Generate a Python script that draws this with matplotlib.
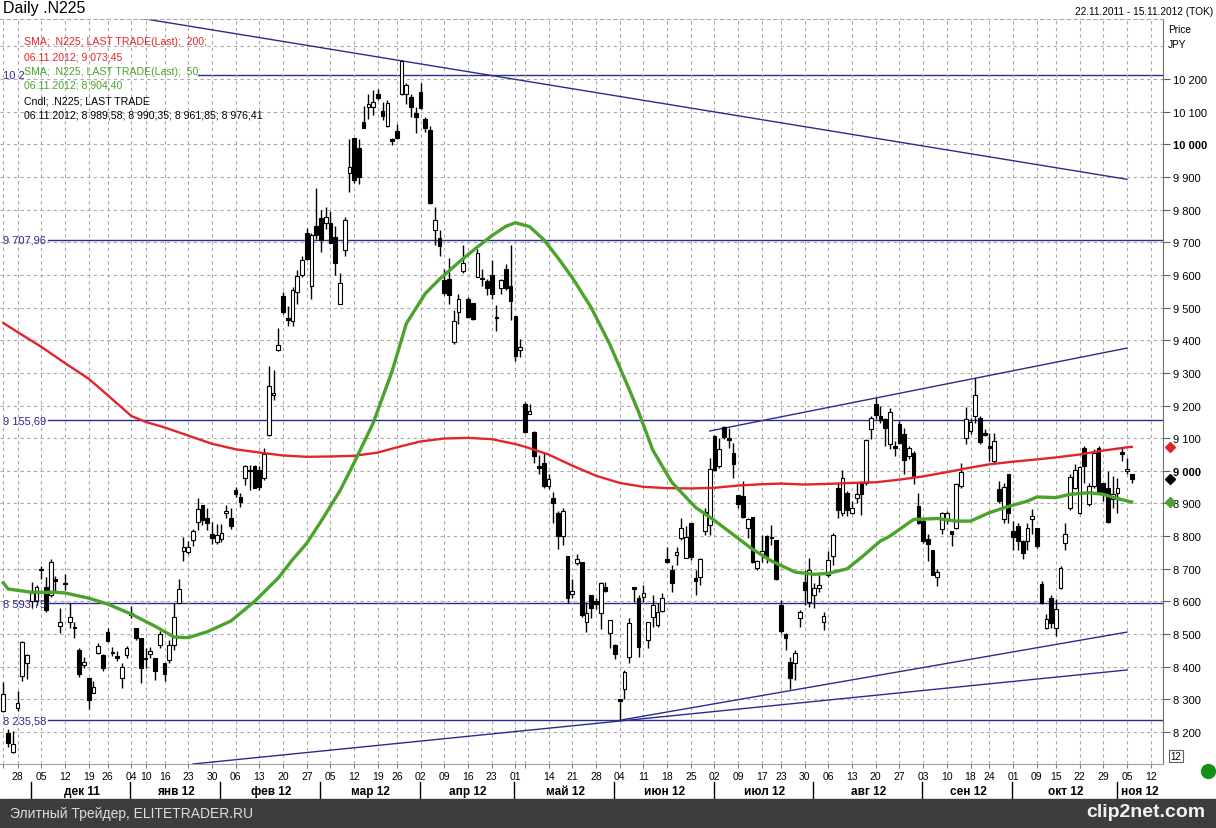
import numpy as np
import pandas as pd
import matplotlib
matplotlib.use("Agg")
import matplotlib.pyplot as plt
import matplotlib.transforms as mtransforms
from matplotlib.patches import Rectangle
from matplotlib.lines import Line2D

plt.rcParams['font.family'] = ['Liberation Sans', 'DejaVu Sans']

W, H = 1216, 829

# trading days (TSE holidays removed)
jp_holidays = ['2011-11-23', '2011-12-23', '2012-01-02', '2012-01-03', '2012-01-09',
               '2012-03-20', '2012-04-30', '2012-05-03', '2012-05-04', '2012-07-16',
               '2012-09-17', '2012-10-08']
dates = pd.bdate_range('2011-11-22', '2012-11-15', freq='C', holidays=jp_holidays)

opens = [8264, 8196, 8140, 8274, 8371, 8411, 8600, 8600, 8698, 8645,
         8619, 8668, 8525, 8655, 8538, 8520, 8452, 8404, 8365, 8318,
         8442, 8436, 8506, 8446, 8432, 8365, 8436, 8566, 8518, 8489,
         8428, 8438, 8426, 8467, 8411, 8421, 8467, 8594, 8755, 8752,
         8787, 8843, 8895, 8854, 8807, 8781, 8792, 8870, 8856, 8941,
         8921, 8978, 8999, 9014, 9004, 8978, 9111, 9232, 9371, 9537,
         9467, 9460, 9547, 9601, 9730, 9566, 9750, 9774, 9760, 9760,
         9716, 9511, 9676, 9912, 10018, 9990, 10067, 10113, 10113, 10153,
         10102, 10056, 10015, 10041, 10153, 10153, 10144, 10095, 10159, 10079,
         10044, 9739, 9713, 9584, 9589, 9396, 9486, 9612, 9526, 9514,
         9595, 9592, 9580, 9601, 9472, 9561, 9618, 9566, 9474, 9369,
         9204, 9175, 9118, 9015, 9023, 8955, 8916, 8870, 8801, 8738,
         8622, 8718, 8720, 8538, 8620, 8600, 8563, 8643, 8502, 8466,
         8300, 8333, 8430, 8645, 8612, 8615, 8481, 8553, 8528, 8571,
         8731, 8697, 8743, 8794, 8733, 8840, 8673, 8676, 8815, 8835,
         9107, 9014, 9134, 9101, 9055, 8927, 8922, 8825, 8860, 8701,
         8745, 8799, 8796, 8789, 8589, 8499, 8413, 8410, 8548, 8659,
         8599, 8620, 8640, 8538, 8681, 8738, 8947, 8871, 8932, 8871,
         8917, 8963, 8963, 9127, 9204, 9168, 9158, 9081, 9076, 9142,
         9112, 9045, 9056, 8892, 8846, 8790, 8759, 8676, 8821, 8851,
         8815, 8826, 8953, 9102, 9122, 9168, 9163, 9117, 9076, 9030,
         8943, 8851, 8989, 8815, 8831, 8785, 8785, 8851, 8826, 8654,
         8519, 8611, 8519, 8642, 8780, 8887, 8948, 8872, 9071, 8897,
         8953, 9071, 8964, 8948, 8913, 8933, 9058, 9001, 8989.58]

highs = [8352, 8208, 8203, 8325, 8479, 8438, 8660, 8650, 8710, 8675,
         8731, 8678, 8579, 8685, 8594, 8538, 8457, 8431, 8365, 8355,
         8472, 8438, 8518, 8459, 8447, 8411, 8462, 8585, 8520, 8489,
         8457, 8459, 8426, 8508, 8411, 8482, 8594, 8670, 8797, 8786,
         8823, 8916, 8895, 8885, 8843, 8838, 8838, 8895, 8885, 8952,
         8931, 9019, 9019, 9019, 9014, 9071, 9320, 9309, 9439, 9547,
         9506, 9563, 9615, 9658, 9745, 9728, 9866, 9800, 9808, 9797,
         9751, 9607, 9779, 10015, 10018, 10015, 10119, 10153, 10165, 10170,
         10130, 10136, 10021, 10061, 10257, 10188, 10153, 10113, 10188, 10084,
         10056, 9808, 9739, 9618, 9653, 9492, 9543, 9693, 9532, 9514,
         9681, 9618, 9589, 9647, 9509, 9589, 9635, 9693, 9474, 9405,
         9210, 9204, 9123, 9048, 9054, 8991, 8935, 8876, 8887, 8738,
         8669, 8745, 8720, 8599, 8620, 8611, 8661, 8661, 8543, 8471,
         8302, 8389, 8548, 8645, 8620, 8651, 8538, 8620, 8594, 8625,
         8768, 8712, 8768, 8855, 8830, 8840, 8697, 8733, 8886, 9040,
         9110, 9101, 9137, 9132, 9086, 8927, 8968, 8855, 8860, 8727,
         8804, 8804, 8835, 8789, 8604, 8502, 8430, 8451, 8574, 8697,
         8733, 8656, 8681, 8567, 8753, 8809, 8963, 9004, 8937, 8907,
         8963, 8968, 9099, 9168, 9224, 9199, 9163, 9193, 9091, 9153,
         9132, 9076, 9061, 8933, 8851, 8805, 8759, 8698, 8875, 8877,
         8815, 8964, 9025, 9194, 9163, 9285, 9168, 9127, 9117, 9117,
         8969, 8964, 8989, 8846, 8841, 8787, 8841, 8882, 8826, 8662,
         8560, 8621, 8606, 8708, 8841, 8989, 9020, 9015, 9076, 8964,
         9066, 9076, 8964, 8999, 8984, 8979, 9071, 9040, 8990.35]

lows = [8262, 8155, 8135, 8264, 8355, 8363, 8581, 8590, 8668, 8568,
        8614, 8632, 8503, 8634, 8518, 8487, 8370, 8396, 8269, 8318,
        8440, 8388, 8477, 8432, 8416, 8335, 8426, 8548, 8482, 8350,
        8396, 8426, 8360, 8457, 8355, 8411, 8452, 8594, 8724, 8745,
        8771, 8818, 8833, 8818, 8776, 8776, 8781, 8854, 8823, 8921,
        8890, 8957, 8942, 8947, 8942, 8973, 9107, 9216, 9366, 9480,
        9444, 9444, 9511, 9595, 9645, 9526, 9710, 9670, 9742, 9699,
        9601, 9511, 9658, 9854, 9883, 9880, 10050, 10079, 10090, 10136,
        10075, 10052, 9998, 10015, 10151, 10125, 10084, 10036, 10107, 10038,
        9818, 9693, 9658, 9538, 9511, 9388, 9451, 9607, 9469, 9461,
        9595, 9566, 9538, 9526, 9428, 9543, 9555, 9463, 9336, 9348,
        9117, 9175, 9025, 8991, 8947, 8945, 8841, 8761, 8772, 8594,
        8611, 8712, 8553, 8507, 8548, 8578, 8517, 8630, 8456, 8425,
        8236, 8302, 8410, 8599, 8430, 8599, 8456, 8522, 8522, 8568,
        8717, 8630, 8712, 8789, 8733, 8727, 8620, 8651, 8804, 8804,
        9000, 9009, 9096, 9071, 8978, 8886, 8856, 8794, 8717, 8696,
        8722, 8717, 8773, 8666, 8502, 8451, 8333, 8359, 8522, 8589,
        8584, 8579, 8630, 8512, 8676, 8712, 8855, 8861, 8861, 8868,
        8901, 8866, 8958, 9096, 9158, 9148, 9076, 9066, 9045, 9081,
        8989, 9035, 8959, 8838, 8780, 8724, 8680, 8647, 8805, 8836,
        8770, 8821, 8948, 9081, 9112, 9148, 9081, 9107, 9030, 9025,
        8902, 8841, 8841, 8759, 8759, 8729, 8759, 8805, 8764, 8591,
        8514, 8519, 8494, 8637, 8759, 8879, 8943, 8867, 8964, 8892,
        8948, 8928, 8907, 8841, 8887, 8872, 9030, 8989, 8961.85]

closes = [8315, 8165, 8163, 8289, 8477, 8435, 8625, 8644, 8696, 8574,
          8722, 8664, 8538, 8653, 8553, 8518, 8377, 8414, 8298, 8337,
          8462, 8396, 8479, 8442, 8426, 8400, 8456, 8558, 8488, 8395,
          8423, 8448, 8386, 8500, 8379, 8466, 8551, 8639, 8766, 8766,
          8815, 8884, 8849, 8841, 8793, 8803, 8810, 8877, 8832, 8929,
          8905, 9016, 9002, 8947, 8952, 9052, 9260, 9238, 9384, 9485,
          9463, 9554, 9596, 9647, 9650, 9722, 9723, 9707, 9777, 9699,
          9638, 9576, 9769, 9930, 9890, 9899, 10051, 10123, 10130, 10142,
          10086, 10127, 10011, 10018, 10255, 10183, 10115, 10084, 10110, 10050,
          9820, 9768, 9688, 9546, 9538, 9459, 9525, 9638, 9471, 9465,
          9667, 9588, 9561, 9542, 9468, 9584, 9561, 9521, 9351, 9380,
          9119, 9182, 9045, 9010, 8953, 8974, 8901, 8801, 8877, 8611,
          8633, 8729, 8557, 8564, 8580, 8593, 8657, 8633, 8543, 8440,
          8296, 8383, 8534, 8639, 8459, 8625, 8537, 8588, 8568, 8610,
          8721, 8656, 8752, 8824, 8798, 8735, 8664, 8730, 8873, 9007,
          9003, 9067, 9104, 9094, 9021, 8897, 8858, 8851, 8720, 8724,
          8755, 8738, 8795, 8670, 8508, 8488, 8366, 8443, 8567, 8635,
          8695, 8641, 8651, 8555, 8726, 8803, 8881, 8979, 8880, 8885,
          8929, 8928, 9093, 9162, 9171, 9157, 9132, 9179, 9071, 9085,
          9033, 9070, 8984, 8840, 8784, 8776, 8680, 8690, 8872, 8870,
          8807, 8960, 8995, 9159, 9150, 9232, 9087, 9110, 9069, 9092,
          8907, 8949, 8870, 8797, 8786, 8747, 8825, 8863, 8770, 8596,
          8547, 8534, 8578, 8701, 8807, 8982, 9003, 9011, 9014, 8954,
          9056, 8933, 8929, 8842, 8928, 8947, 9052, 9007, 8976.41]

# moving averages
sma200_dates = ['2011-11-22', '2011-11-28', '2011-12-05', '2011-12-12', '2011-12-19',
                '2011-12-26', '2012-01-04', '2012-01-10', '2012-01-16', '2012-01-23',
                '2012-01-30', '2012-02-06', '2012-02-13', '2012-02-20', '2012-02-27',
                '2012-03-05', '2012-03-12', '2012-03-19', '2012-03-26', '2012-04-02',
                '2012-04-09', '2012-04-16', '2012-04-23', '2012-05-01', '2012-05-07',
                '2012-05-14', '2012-05-21', '2012-05-28', '2012-06-04', '2012-06-11',
                '2012-06-18', '2012-06-25', '2012-07-02', '2012-07-09', '2012-07-17',
                '2012-07-23', '2012-07-30', '2012-08-06', '2012-08-13', '2012-08-20',
                '2012-08-27', '2012-09-03', '2012-09-10', '2012-09-18', '2012-09-24',
                '2012-10-01', '2012-10-09', '2012-10-15', '2012-10-22', '2012-10-29',
                '2012-11-05', '2012-11-06']
sma200 = [9453, 9425, 9380, 9330, 9282, 9232, 9168, 9150, 9133, 9108,
          9083, 9066, 9056, 9047, 9043, 9044, 9046, 9056, 9072, 9090,
          9099, 9101, 9097, 9082, 9074, 9050, 9016, 8985, 8963, 8951,
          8947, 8946, 8948, 8955, 8959, 8961, 8958, 8960, 8963, 8965,
          8973, 8983, 8996, 9010, 9020, 9028, 9035, 9041, 9050, 9062,
          9072, 9073.45]

sma50_dates = ['2011-11-22', '2011-11-24', '2011-12-01', '2011-12-08', '2011-12-12',
               '2011-12-19', '2011-12-26', '2012-01-04', '2012-01-12', '2012-01-18',
               '2012-01-23', '2012-01-27', '2012-02-03', '2012-02-10', '2012-02-17',
               '2012-02-22', '2012-02-27', '2012-03-01', '2012-03-07', '2012-03-12',
               '2012-03-16', '2012-03-23', '2012-03-28', '2012-04-03', '2012-04-06',
               '2012-04-12', '2012-04-17', '2012-04-23', '2012-04-26', '2012-05-01',
               '2012-05-08', '2012-05-11', '2012-05-16', '2012-05-21', '2012-05-25',
               '2012-05-31', '2012-06-06', '2012-06-08', '2012-06-13', '2012-06-19',
               '2012-06-26', '2012-07-02', '2012-07-06', '2012-07-12', '2012-07-19',
               '2012-07-26', '2012-08-01', '2012-08-06', '2012-08-10', '2012-08-15',
               '2012-08-21', '2012-08-23', '2012-08-30', '2012-09-06', '2012-09-12',
               '2012-09-18', '2012-09-24', '2012-09-28', '2012-10-04', '2012-10-09',
               '2012-10-15', '2012-10-18', '2012-10-24', '2012-10-29', '2012-11-01',
               '2012-11-06']
sma50 = [8657, 8638, 8628, 8628, 8626, 8610, 8592, 8561, 8524, 8491,
         8489, 8507, 8540, 8600, 8672, 8728, 8778, 8845, 8939, 9025,
         9146, 9305, 9451, 9543, 9587, 9638, 9674, 9720, 9749, 9760,
         9748, 9708, 9652, 9592, 9500, 9385, 9250, 9180, 9063, 8965,
         8888, 8848, 8804, 8760, 8724, 8690, 8683, 8686, 8700, 8735,
         8785, 8800, 8851, 8854, 8846, 8846, 8872, 8891, 8907, 8920,
         8918, 8928, 8933, 8928, 8915, 8904.40]

levels = [10212, 9707.96, 9155.69, 8593.75, 8235.58]
level_labels = ['10 2', '9 707,96', '9 155,69', '8 593,75', '8 235,58']

trend_lines = [
    (('2012-01-10', '2012-11-05'), (10384, 9893)),
    (('2012-06-29', '2012-11-05'), (9122, 9376)),
    (('2012-06-04', '2012-11-05'), (8236, 8506)),
    (('2012-01-24', '2012-11-05'), (8102, 8390)),
]

month_names = ['дек 11', 'янв 12', 'фев 12', 'мар 12', 'апр 12', 'май 12',
               'июн 12', 'июл 12', 'авг 12', 'сен 12', 'окт 12', 'ноя 12']
hidden_ticks = ['2011-11-22', '2012-05-07']

navy = '#2b2b8e'
red = '#e3242b'
green = '#4aa32a'


def idx(d):
    return dates.get_loc(pd.Timestamp(d))


n = len(closes)
xs = np.arange(n)
o = np.array(opens)
h = np.array(highs)
l = np.array(lows)
c = np.array(closes)

fig = plt.figure(figsize=(W / 100, H / 100), dpi=100)
ax = fig.add_axes([0, 64 / H, 1163 / W, 745 / H])
ax.set_xlim(-0.7, 244.6)
ax.set_ylim(8102, 10384)

# week starts
iso = dates.isocalendar()
week_idx = sorted(pd.Series(np.arange(len(dates))).groupby(
    [iso.year.values, iso.week.values]).first().values)

# grid
yt = list(range(8200, 10301, 100))
ax.set_yticks(yt)
ax.set_xticks(week_idx)
ax.grid(True, ls=(0, (3, 3)), color='#a9a9a9', lw=0.8, zorder=0)

# candles
up = c >= o
ax.vlines(xs, l, h, color='black', lw=1, zorder=2)
lo = np.minimum(o, c)
bh = np.maximum(np.abs(c - o), 3)
ax.bar(xs[up], bh[up], bottom=lo[up], width=0.78, color='white',
       edgecolor='black', lw=0.8, zorder=3)
ax.bar(xs[~up], bh[~up], bottom=lo[~up], width=0.78, color='black',
       edgecolor='black', lw=0.8, zorder=3)

# moving averages
ax.plot([idx(d) for d in sma200_dates], sma200, color=red, lw=1.7, zorder=4)
ax.plot([idx(d) for d in sma50_dates], sma50, color=green, lw=2.4, zorder=4,
        solid_joinstyle='round')

# horizontal levels
tr = mtransforms.blended_transform_factory(ax.transAxes, ax.transData)
for lev, lab in zip(levels, level_labels):
    start = 0.17 if lev > 10000 else 0.041
    ax.axhline(lev, xmin=start, xmax=1, color=navy, lw=1, zorder=1.5)
    ax.text(0.003, lev, lab, transform=tr, color=navy, fontsize=8,
            va='center', ha='left', zorder=5)

# trend lines
for (d1, d2), (p1, p2) in trend_lines:
    ax.plot([idx(d1), idx(d2)], [p1, p2], color=navy, lw=1, zorder=1.6)

# axes styling
ax.spines['left'].set_visible(False)
ax.spines['top'].set_linestyle((0, (3, 3)))
ax.spines['top'].set_color('#a9a9a9')
ax.spines['right'].set_color('#707070')
ax.spines['bottom'].set_color('#a0a0a0')
ax.yaxis.tick_right()
ax.set_yticklabels(['' if v > 10200 else f'{v:,}'.replace(',', ' ') for v in yt])
for t, v in zip(ax.get_yticklabels(), yt):
    if v in (9000, 10000):
        t.set_fontweight('bold')
        t.set_fontsize(9.5)
ax.tick_params(axis='y', labelsize=8, length=5, width=0.8, color='#606060', pad=2)
ax.yaxis.get_major_ticks()[-1].tick2line.set_visible(False)
hidden_idx = [idx(d) for d in hidden_ticks]
ax.set_xticklabels(['' if i in hidden_idx else f'{dates[i].day:02d}' for i in week_idx])
ax.tick_params(axis='x', labelsize=7.5, length=3, color='#808080', pad=2)

# months
trx = mtransforms.blended_transform_factory(ax.transData, ax.transAxes)
month_start = [int(g) for g in pd.Series(np.arange(len(dates))).groupby(
    [dates.year, dates.month]).first().values][1:]
bounds = month_start + [244.6]
for k, s in enumerate(month_start):
    ax.plot([s - 0.2, s - 0.2], [-0.024, -0.047], transform=trx, clip_on=False,
            color='black', lw=1)
    ax.text((bounds[k] + bounds[k + 1]) / 2, -0.036, month_names[k], transform=trx,
            ha='center', va='center', fontsize=8.5, fontweight='bold')

# legend text
leg = [('SMA; .N225; LAST TRADE(Last);  200;', red, 42),
       ('06.11.2012; 9 073,45', red, 57),
       ('SMA; .N225; LAST TRADE(Last);  50;', green, 72),
       ('06.11.2012; 8 904,40', green, 86),
       ('Cndl; .N225; LAST TRADE', 'black', 101),
       ('06.11.2012; 8 989,58; 8 990,35; 8 961,85; 8 976,41', 'black', 116)]
for txt, col, yp in leg:
    fig.text(24 / W, 1 - yp / H, txt, color=col, fontsize=7.6, va='center', ha='left')

fig.text(3 / W, 1 - 9 / H, 'Daily .N225', fontsize=11.5, va='center', ha='left')
fig.text(1213 / W, 1 - 12 / H, '22.11.2011 - 15.11.2012 (TOK)', fontsize=7.3,
         va='center', ha='right')
fig.text(1168 / W, 1 - 30 / H, 'Price', fontsize=7.3, va='center', ha='left')
fig.text(1168 / W, 1 - 45 / H, 'JPY', fontsize=7.3, va='center', ha='left')

# last value markers
for val, col in [(9073.45, red), (8976.41, 'black'), (8904.40, green)]:
    ax.plot([1.006], [val], transform=tr, marker='D', markersize=5.5, color=col,
            clip_on=False, zorder=6)

fig.text(1176 / W, 1 - 757 / H, '12', fontsize=7, ha='center', va='center',
         bbox=dict(boxstyle='square,pad=0.15', fc='white', ec='#606060', lw=0.8))
fig.add_artist(Line2D([1208 / W], [1 - 772 / H], marker='o', markersize=10,
                      color='#14901a', transform=fig.transFigure))

# bottom banner
fig.patches.append(Rectangle((0, 0), 1, 29 / H, transform=fig.transFigure,
                             color='#3d3d3d', zorder=0))
fig.text(10 / W, 1 - 814 / H, 'Элитный Трейдер, ELITETRADER.RU', color='#dedede',
         fontsize=10, va='center', ha='left')
fig.text(1205 / W, 1 - 813 / H, 'clip2net.com', color='#f2f2f2', fontsize=14,
         fontweight='bold', va='center', ha='right')

fig.savefig('out.png', dpi=100, facecolor='white')
